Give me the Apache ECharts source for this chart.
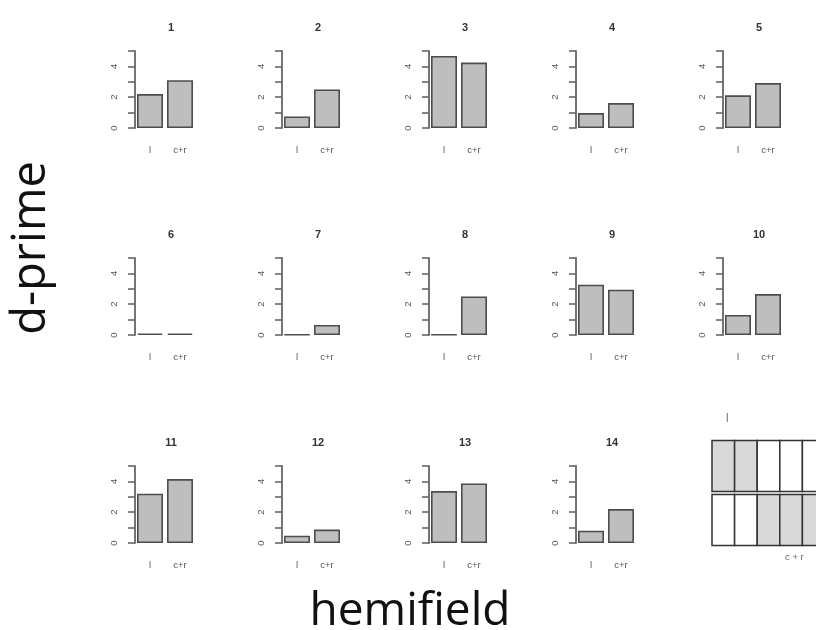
<!DOCTYPE html>
<html>
<head>
<meta charset="utf-8">
<script src="https://cdn.jsdelivr.net/npm/echarts@6/dist/echarts.min.js"></script>
<style>html,body{margin:0;padding:0;background:#fff;}#c{width:816px;height:630px;}</style>
</head>
<body>
<div id="c"></div>
<script>
// ---- data ----
const panelNames = ['1','2','3','4','5','6','7','8','9','10','11','12','13','14'];
const categories = ['l', 'c+r'];
const lValues  = [2.2, 0.75, 4.68, 0.97, 2.12, 0.1, 0.03, 0.03, 3.27, 1.3, 3.2, 0.47, 3.37, 0.8];
const crValues = [3.1, 2.5, 4.25, 1.62, 2.92, 0.1, 0.65, 2.5, 2.94, 2.66, 4.15, 0.87, 3.87, 2.2];
const yMin = 0, yMax = 5, yStep = 1;
const yTickLabels = [0, 2, 4];
const diagramCols = ['a','b','c','d','e'];
const diagramRows = ['bottom','top'];
const diagramTop = [1, 1, 0, 0, 0];     // 1 = shaded
const diagramBottom = [0, 0, 1, 1, 1];
const diagramLabelTop = 'l';
const diagramLabelBottom = 'c + r';
const xTitle = 'hemifield';
const yTitle = 'd-prime';

// ---- layout ----
const colLeft = [135, 282, 429, 576, 723];
const rowBase = [128, 335, 543];
const plotH = 77;
const plotW = 60;

const grids = [], xAxes = [], yAxes = [], series = [], titles = [];
panelNames.forEach((name, i) => {
  const r = Math.floor(i / 5), c = i % 5;
  const left = colLeft[c], top = rowBase[r] - plotH;
  grids.push({ left: left, top: top, width: plotW, height: plotH, containLabel: false });
  xAxes.push({
    type: 'category', gridIndex: i, data: categories,
    axisLine: { show: false }, axisTick: { show: false },
    axisLabel: { fontSize: 9.5, color: '#555', margin: 17, fontFamily: 'Liberation Sans' }
  });
  yAxes.push({
    type: 'value', gridIndex: i, min: yMin, max: yMax, interval: yStep,
    splitLine: { show: false },
    axisLine: { show: true, lineStyle: { color: '#666', width: 1.8 } },
    axisTick: { show: true, length: 7, lineStyle: { color: '#666', width: 1.6 } },
    axisLabel: {
      rotate: 90, fontSize: 9.5, color: '#555', margin: 16, fontFamily: 'Liberation Sans',
      formatter: v => (yTickLabels.indexOf(v) >= 0 ? String(v) : '')
    }
  });
  series.push({
    type: 'bar', xAxisIndex: i, yAxisIndex: i,
    data: [lValues[i], crValues[i]],
    barWidth: 26,
    itemStyle: { color: '#bebebe', borderColor: '#4d4d4d', borderWidth: 1.6 },
    silent: true, animation: false
  });
  titles.push({
    text: name, left: left + 31, top: rowBase[r] - 111, textAlign: 'center',
    textStyle: { fontSize: 11, fontWeight: 'bold', color: '#333', fontFamily: 'Liberation Sans' }
  });
});

// schematic diagram (bottom right)
const dIdx = panelNames.length;
grids.push({ left: 712, top: 439, width: 113, height: 108, outerBoundsMode: 'none' });
xAxes.push({ type: 'category', gridIndex: dIdx, data: diagramCols, show: false });
yAxes.push({ type: 'category', gridIndex: dIdx, data: diagramRows, show: false });
const cellData = [];
diagramCols.forEach((col, k) => {
  cellData.push([k, 1, diagramTop[k]]);
  cellData.push([k, 0, diagramBottom[k]]);
});
series.push({
  type: 'custom', xAxisIndex: dIdx, yAxisIndex: dIdx, data: cellData, animation: false, silent: true,
  clip: false,
  renderItem: function (params, api) {
    const p = api.coord([api.value(0), api.value(1)]);
    const s = api.size([1, 1]);
    const gap = 1.5;
    return {
      type: 'rect',
      shape: { x: p[0] - s[0] / 2, y: p[1] - s[1] / 2 + gap, width: s[0], height: s[1] - 2 * gap },
      style: { fill: api.value(2) ? '#d9d9d9' : '#ffffff', stroke: '#333', lineWidth: 1.5 }
    };
  }
});

const chart = echarts.init(document.getElementById('c'), null, { renderer: 'canvas' });
chart.setOption({
  backgroundColor: '#ffffff',
  animation: false,
  title: titles,
  grid: grids,
  xAxis: xAxes,
  yAxis: yAxes,
  series: series,
  graphic: [
    { type: 'text', left: 726, top: 413, style: { text: diagramLabelTop, fontSize: 12, fill: '#777', fontFamily: 'Liberation Sans' } },
    { type: 'text', left: 785, top: 552, style: { text: diagramLabelBottom, fontSize: 9.5, fill: '#666', fontFamily: 'Liberation Sans' } },
    { type: 'text', x: 410, y: 612, style: { text: xTitle, fontSize: 46, fill: '#111', fontFamily: 'Open Sans', align: 'center', verticalAlign: 'middle' } },
    { type: 'text', x: 32, y: 248, rotation: Math.PI / 2, style: { text: yTitle, fontSize: 47, fill: '#111', fontFamily: 'Open Sans', align: 'center', verticalAlign: 'middle' } }
  ]
});
</script>
</body>
</html>
